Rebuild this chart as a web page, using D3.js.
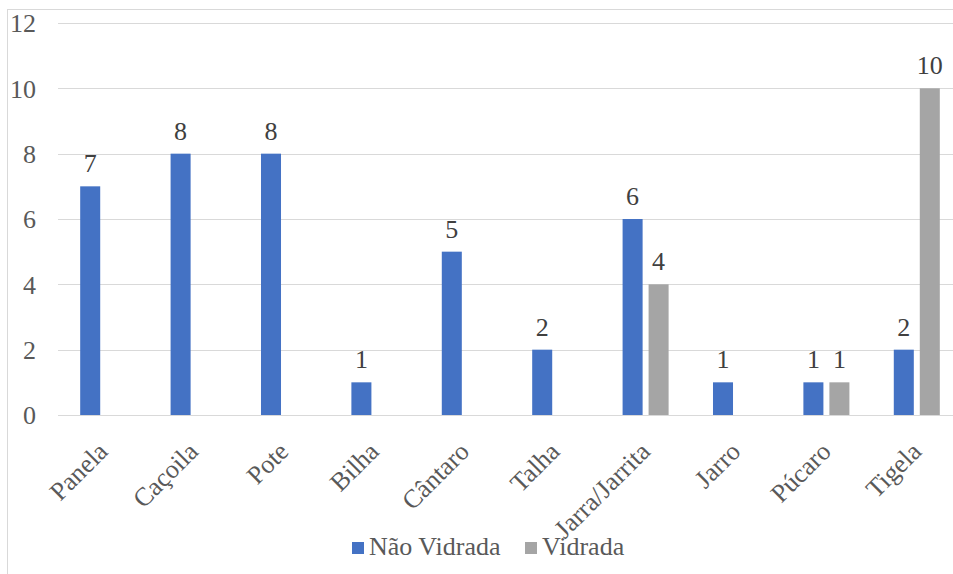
<!DOCTYPE html>
<html>
<head>
<meta charset="utf-8">
<script src="https://cdn.jsdelivr.net/npm/d3@7"></script>
</head>
<body style="margin:0">
<svg id="chart" width="953" height="574" font-family="Liberation Serif"></svg>
<script>
const categories = ["Panela", "Caçoila", "Pote", "Bilha", "Cântaro", "Talha", "Jarra/Jarrita", "Jarro", "Púcaro", "Tigela"];
const seriesNames = ["Não Vidrada", "Vidrada"];
const naoVidrada = [7, 8, 8, 1, 5, 2, 6, 1, 1, 2];
const vidrada = [null, null, null, null, null, null, 4, null, 1, 10];
const yTicks = [0, 2, 4, 6, 8, 10, 12];
const colors = ["#4472C4", "#A5A5A5"];

const FS = 26;
const svg = d3.select("#chart");

// chart frame
svg.append("rect")
  .attr("x", 7.5).attr("y", 9.5)
  .attr("width", 970).attr("height", 600)
  .attr("fill", "#fff").attr("stroke", "#d9d9d9").attr("stroke-width", 1);

const x = d3.scaleBand().domain(categories).range([58, 962]).padding(0);
const xSub = d3.scaleBand().domain(seriesNames).range([-26, 26]).paddingInner(0.23).paddingOuter(0.115);
const y = d3.scaleLinear().domain([0, 12]).range([415, 23]);

// gridlines
svg.append("g").selectAll("line").data(yTicks).join("line")
  .attr("x1", 58).attr("x2", 962)
  .attr("y1", d => Math.round(y(d)) + 0.5).attr("y2", d => Math.round(y(d)) + 0.5)
  .attr("stroke", "#d9d9d9").attr("stroke-width", 1);

// y axis labels
const yAxis = d3.axisLeft(y).tickValues(yTicks).tickSize(0).tickPadding(0);
const yG = svg.append("g").attr("transform", "translate(35,0)").call(yAxis);
yG.attr("font-family", null).attr("font-size", FS);
yG.select(".domain").remove();
yG.selectAll("text")
  .style("font-family", "'Liberation Serif'")
  .attr("fill", "#595959")
  .attr("x", 1).attr("dy", "0.34em");

// build bar data
const bars = [];
categories.forEach((c, i) => {
  [naoVidrada, vidrada].forEach((arr, s) => {
    if (arr[i] != null) bars.push({ cat: c, series: seriesNames[s], value: arr[i], color: colors[s] });
  });
});

const bx = d => x(d.cat) + x.bandwidth() / 2 + xSub(d.series);

svg.append("g").selectAll("rect").data(bars).join("rect")
  .attr("x", d => bx(d))
  .attr("y", d => y(d.value))
  .attr("width", xSub.bandwidth())
  .attr("height", d => y(0) - y(d.value))
  .attr("fill", d => d.color);

// data labels
svg.append("g").selectAll("text").data(bars).join("text")
  .attr("x", d => bx(d) + xSub.bandwidth() / 2)
  .attr("y", d => y(d.value) - 14)
  .attr("text-anchor", "middle")
  .style("font-family", "'Liberation Serif'")
  .attr("font-size", FS)
  .attr("fill", "#404040")
  .text(d => d.value);

// x axis labels (rotated)
const xAxis = d3.axisBottom(x).tickSize(0).tickPadding(0);
const xG = svg.append("g").attr("transform", "translate(0,415)").call(xAxis);
xG.attr("font-family", null).attr("font-size", FS);
xG.select(".domain").remove();
xG.selectAll(".tick text")
  .style("font-family", "'Liberation Serif'")
  .attr("fill", "#595959")
  .attr("text-anchor", "end")
  .attr("x", 0).attr("y", 0).attr("dy", 0)
  .attr("transform", "translate(6,38) rotate(-45)");

// legend
const legend = svg.append("g").attr("transform", "translate(352,555)");
const legendItems = [
  { name: seriesNames[0], color: colors[0], x: 0 },
  { name: seriesNames[1], color: colors[1], x: 173 }
];
const li = legend.selectAll("g").data(legendItems).join("g")
  .attr("transform", d => `translate(${d.x},0)`);
li.append("rect").attr("x", 0).attr("y", -13).attr("width", 12).attr("height", 12)
  .attr("fill", d => d.color);
li.append("text").attr("x", 17).attr("y", 0)
  .style("font-family", "'Liberation Serif'")
  .attr("font-size", FS)
  .attr("fill", "#595959")
  .text(d => d.name);
</script>
</body>
</html>
